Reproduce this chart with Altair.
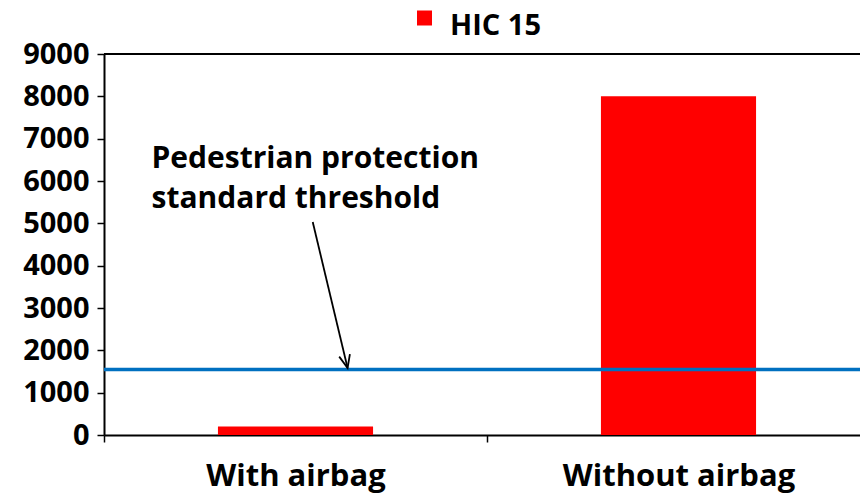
import altair as alt
import pandas as pd

# ---- data ----
categories = ["With airbag", "Without airbag"]
hic15_values = [200, 8000]
series_name = "HIC 15"
threshold_value = 1550
y_tick_values = [0, 1000, 2000, 3000, 4000, 5000, 6000, 7000, 8000, 9000]
y_max = 9000

annotation_lines = ["Pedestrian protection", "standard threshold"]
annotation_category = "With airbag"
annotation_y = 6307

# arrow from the annotation to the threshold line (x in category units 0..2)
arrow_x_start = 0.545
arrow_x_end = 0.636
arrow_y_start = 5031
arrow_y_end = 1583

FONT = "Open Sans"

PLOT_W = 756       # visible plot width (page is 852 px wide inside margins)
BAND_RANGE = 766   # the category axis continues past the right edge, as in the reference

bars_df = pd.DataFrame({
    "category": categories,
    "value": hic15_values,
    "series": [series_name] * len(categories),
})

xscale = alt.Scale(domain=categories, paddingInner=0, paddingOuter=0, range=[0, BAND_RANGE])
yscale = alt.Scale(domain=[0, y_max], nice=False)

x_axis = alt.Axis(
    title=None, labelAngle=0, tickBand="extent", tickSize=7, tickColor="black",
    tickWidth=1.5, domainColor="black", domainWidth=2, labelFontSize=31,
    labelFontWeight="bold", labelColor="black", labelPadding=19, labelFont=FONT,
    labelLimit=0,
)
y_axis = alt.Axis(
    title=None, values=y_tick_values, format="d", grid=False, tickSize=7,
    tickColor="black", tickWidth=1.5, domainColor="black", domainWidth=2,
    labelFontSize=29, labelFontWeight="bold", labelColor="black", labelPadding=8,
    labelFont=FONT,
)

bars = alt.Chart(bars_df).mark_bar(width={"band": 0.405}).encode(
    x=alt.X("category:N", scale=xscale, sort=categories, axis=x_axis),
    y=alt.Y("value:Q", scale=yscale, axis=y_axis),
    color=alt.Color(
        "series:N",
        scale=alt.Scale(domain=[series_name], range=["#FF0000"]),
        legend=alt.Legend(
            title=None, orient="none", legendX=306, legendY=-43,
            symbolType="M-1,-2H1V0H-1Z", symbolSize=225, symbolStrokeWidth=0,
            symbolOpacity=1, labelFontSize=29, labelFontWeight="bold",
            labelColor="black", labelOffset=11, padding=0, labelFont=FONT,
            labelLimit=0,
        ),
    ),
)

top_border = alt.Chart(pd.DataFrame({"top": [y_max]})).mark_rule(
    color="black", strokeWidth=2
).encode(y=alt.Y("top:Q", scale=yscale))

threshold = alt.Chart(pd.DataFrame({"t": [threshold_value]})).mark_rule(
    color="#0070C0", strokeWidth=3.5
).encode(y=alt.Y("t:Q", scale=yscale))

annot = alt.Chart(pd.DataFrame({
    "category": [annotation_category],
    "y": [annotation_y],
    "text": [annotation_lines],
})).mark_text(
    align="left", baseline="alphabetic", dx=-144, fontSize=30,
    fontWeight="bold", lineHeight=40, font=FONT, color="black",
).encode(
    x=alt.X("category:N", scale=xscale, sort=categories),
    y=alt.Y("y:Q", scale=yscale),
    text="text",
)

inner = alt.layer(bars, top_border, threshold, annot)

arrow_df = pd.DataFrame({
    "x": [arrow_x_start], "x2": [arrow_x_end],
    "y": [arrow_y_start], "y2": [arrow_y_end],
})
ax_scale = alt.Scale(domain=[0, 2], nice=False, zero=False, range=[0, BAND_RANGE])

arrow = alt.Chart(arrow_df).mark_rule(color="black", strokeWidth=1.8).encode(
    x=alt.X("x:Q", scale=ax_scale, axis=None),
    x2="x2",
    y=alt.Y("y:Q", scale=yscale),
    y2="y2",
)
head = alt.Chart(arrow_df).mark_point(
    shape="M-0.55,-1.3L0,0L0.55,-1.3", filled=False, stroke="black",
    strokeWidth=1.8, size=400, angle=346.5, opacity=1,
).encode(
    x=alt.X("x2:Q", scale=ax_scale, axis=None),
    y=alt.Y("y2:Q", scale=yscale),
)

chart = alt.layer(inner, arrow, head).resolve_scale(x="independent").properties(
    width=PLOT_W, height=381,
    autosize=alt.AutoSizeParams(type="none"),
    padding={"left": 96, "top": 46, "right": 0, "bottom": 59},
    background="white",
).configure_view(stroke=None).configure(font=FONT)

chart.save("out.html", embed_options={"renderer": "svg", "actions": False})
